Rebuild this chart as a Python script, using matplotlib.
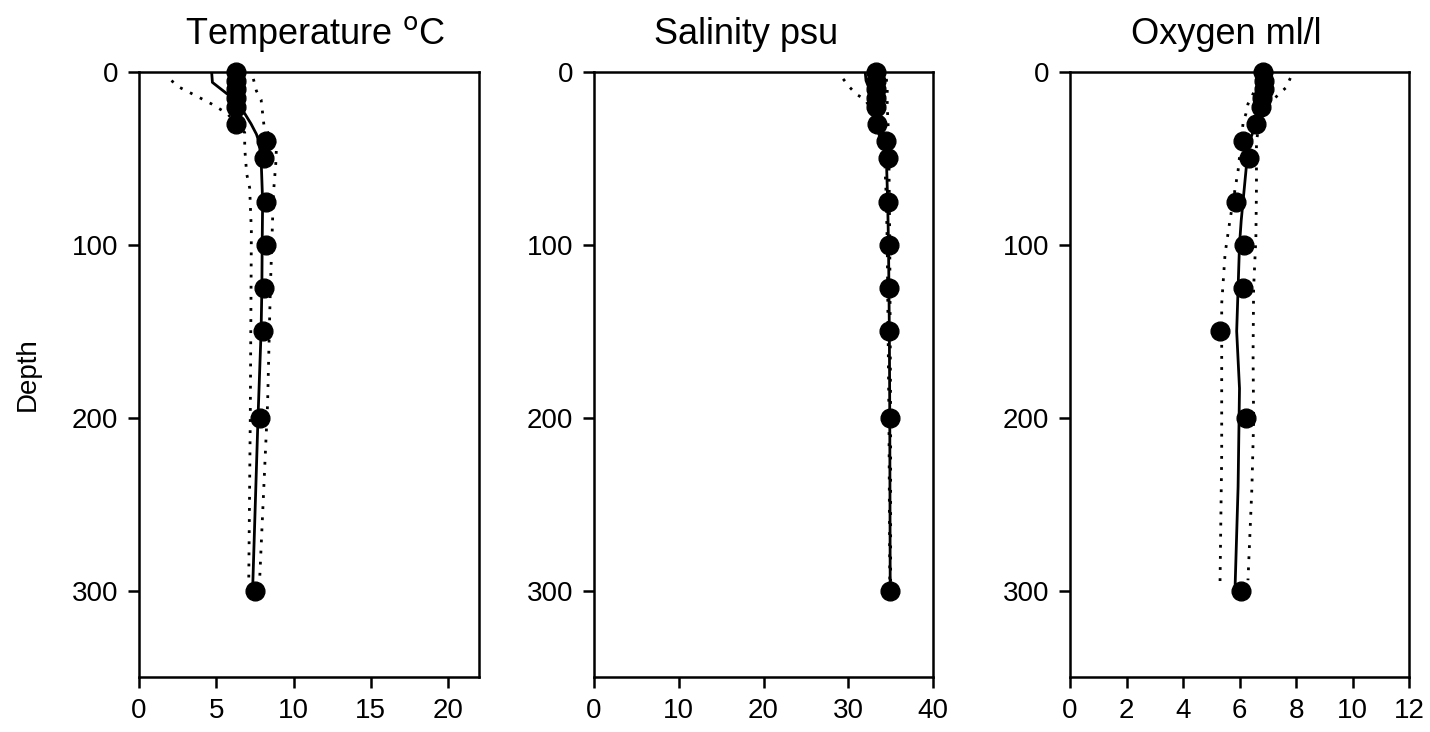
import matplotlib
matplotlib.use("Agg")
import matplotlib.pyplot as plt
import numpy as np

plt.rcParams['font.family'] = ['Liberation Sans', 'DejaVu Sans']

# sampled depths (m) and station values
depth_pts = [0, 5, 10, 15, 20, 30, 40, 50, 75, 100, 125, 150, 200, 300]
temp_pts = [6.3, 6.3, 6.3, 6.3, 6.3, 6.3, 8.2, 8.1, 8.2, 8.2, 8.1, 8.0, 7.8, 7.5]
sal_pts = [33.3, 33.3, 33.3, 33.3, 33.3, 33.35, 34.45, 34.65, 34.7, 34.8, 34.8, 34.8, 34.9, 34.9]
oxy_pts = [6.83, 6.85, 6.85, 6.8, 6.75, 6.6, 6.13, 6.34, 5.87, 6.17, 6.13, 5.31, 6.22, 6.04]

# mean profiles
temp_mean_d = [0, 6, 13, 20, 24, 30, 36, 40, 50, 75, 100, 125, 150, 200, 300]
temp_mean = [4.7, 4.75, 5.75, 6.4, 6.84, 7.25, 7.6, 7.75, 7.9, 8.0, 7.97, 7.95, 7.9, 7.7, 7.35]
temp_lo_d = [5, 9, 14, 18.5, 24, 35, 44, 59, 67, 92, 125, 200, 295]
temp_lo = [2.1, 2.65, 3.74, 4.7, 5.7, 6.84, 6.84, 6.97, 7.16, 7.27, 7.25, 7.2, 7.1]
temp_hi_d = [4, 11, 16, 24, 32, 42, 53, 70, 125, 192, 295]
temp_hi = [7.4, 7.6, 7.9, 8.0, 8.1, 8.9, 8.85, 8.7, 8.5, 8.32, 7.8]

sal_mean_d = [0, 5, 10, 15, 20, 30, 40, 50, 75, 100, 150, 200, 300]
sal_mean = [32.0, 32.1, 32.5, 33.0, 33.4, 33.9, 34.3, 34.5, 34.65, 34.75, 34.85, 34.9, 34.95]
sal_lo_d = [4, 9, 13, 16, 20, 30, 40, 50, 75, 100, 150, 200, 295]
sal_lo = [29.4, 30.2, 31.0, 32.0, 32.5, 33.2, 33.9, 34.3, 34.5, 34.6, 34.7, 34.8, 34.9]
sal_hi_d = [4, 10, 20, 30, 50, 100, 200, 295]
sal_hi = [34.5, 34.6, 34.6, 34.7, 34.8, 34.9, 35.0, 35.0]

oxy_mean_d = [0, 10, 20, 30, 40, 50, 86, 100, 125, 150, 183, 240, 300]
oxy_mean = [6.85, 6.85, 6.75, 6.6, 6.35, 6.27, 6.06, 6.0, 5.95, 5.9, 6.0, 5.95, 5.84]
oxy_lo_d = [12, 18.5, 24, 29, 57, 86, 105, 134, 163, 221, 296]
oxy_lo = [6.5, 6.3, 6.23, 6.13, 5.95, 5.66, 5.49, 5.37, 5.37, 5.37, 5.31]
oxy_hi_d = [3.5, 9, 13, 18.5, 30, 40, 67, 96, 125, 163, 202, 240, 294]
oxy_hi = [7.8, 7.65, 7.37, 7.08, 6.7, 6.6, 6.6, 6.58, 6.5, 6.48, 6.5, 6.44, 6.3]

titles = ['Temperature $^{\\mathrm{o}}$C', 'Salinity psu', 'Oxygen ml/l']
title_x = [0.517, 0.449, 0.46]
xlims = [(0, 22), (0, 40), (0, 12)]
xticks = [[0, 5, 10, 15, 20], [0, 10, 20, 30, 40], [0, 2, 4, 6, 8, 10, 12]]

fig = plt.figure(figsize=(14.3, 7.32), dpi=100)
lefts = [139, 594, 1070]
widths = [340, 339, 339]

panels = [
    (temp_pts, temp_mean_d, temp_mean, temp_lo_d, temp_lo, temp_hi_d, temp_hi),
    (sal_pts, sal_mean_d, sal_mean, sal_lo_d, sal_lo, sal_hi_d, sal_hi),
    (oxy_pts, oxy_mean_d, oxy_mean, oxy_lo_d, oxy_lo, oxy_hi_d, oxy_hi),
]

for i, (pts, md, m, lod, lo, hid, hi) in enumerate(panels):
    ax = fig.add_axes([lefts[i] / 1430, (732 - 677) / 732, widths[i] / 1430, 605 / 732])
    ax.plot(lo, lod, color='black', lw=2, linestyle=(0, (1, 3)))
    ax.plot(hi, hid, color='black', lw=2, linestyle=(0, (1, 3)))
    ax.plot(m, md, color='black', lw=2)
    ax.plot(pts, depth_pts, 'o', color='black', markersize=13.5, clip_on=False, zorder=3)
    ax.set_xlim(*xlims[i])
    ax.set_ylim(350, 0)
    ax.set_xticks(xticks[i])
    ax.set_yticks([0, 100, 200, 300])
    ax.tick_params(direction='out', length=8, width=1.8, labelsize=20, pad=7)
    for s in ax.spines.values():
        s.set_linewidth(1.8)
    ax.set_title(titles[i], fontsize=26, x=title_x[i], pad=20)
    if i == 0:
        ax.set_ylabel('Depth', fontsize=20, labelpad=22)

fig.savefig('out.png', dpi=100)
